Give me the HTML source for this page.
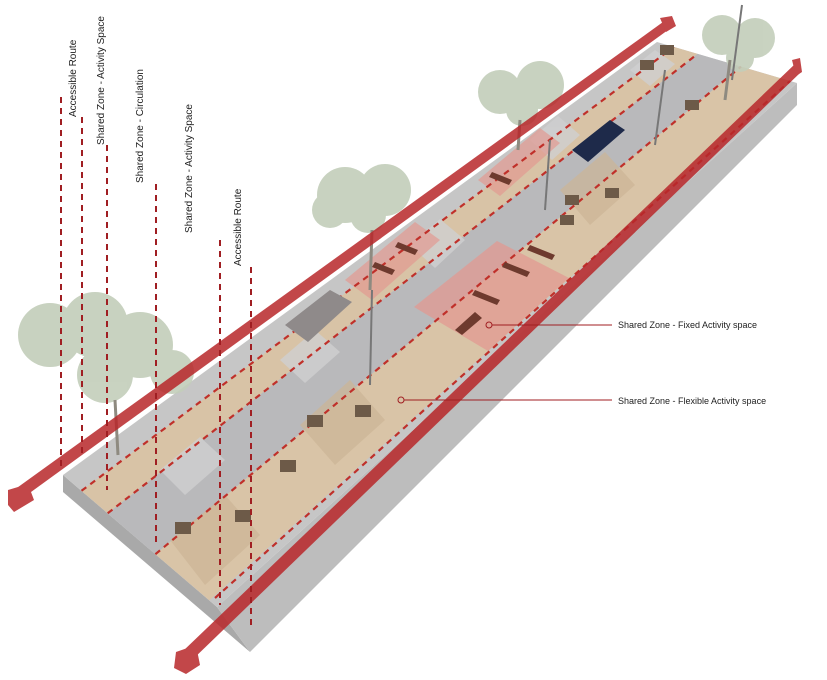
<!DOCTYPE html>
<html><head><meta charset="utf-8"><style>
html,body{margin:0;padding:0;background:#fff;}
svg{display:block;font-family:"Liberation Sans",sans-serif;}
</style></head><body>
<svg width="827" height="680" viewBox="0 0 827 680" xmlns="http://www.w3.org/2000/svg">
<polygon points="63,475 217,607 250,652 63,492" fill="#a9a9a9"/>
<polygon points="217,607 797,83 797,105 250,652" fill="#bdbdbd"/>
<polygon points="63,475 657,42 797,83 217,607" fill="#c6c6c6"/>
<polygon points="81.5,490.8 107.7,513.3 697.6,53.9 673.8,46.9" fill="#d8c3a6"/>
<polygon points="107.7,513.3 155.4,554.2 741,66.6 697.6,53.9" fill="#b9b9bb"/>
<polygon points="155.4,554.2 209.3,600.4 790,81 741,66.6" fill="#d9c4a7"/>
<g fill="#cfcfd1" opacity="0.8">
<polygon points="160,470 185,495 225,460 200,437"/>
<polygon points="280,360 305,383 340,352 315,330"/>
<polygon points="410,245 435,268 465,240 440,219"/>
<polygon points="530,140 552,160 580,135 558,116"/>
<polygon points="630,70 650,86 675,64 655,50"/>
</g>
<g fill="#ccb596" opacity="0.7">
<polygon points="170,540 205,585 260,535 225,495"/>
<polygon points="300,425 335,465 385,420 350,380"/>
<polygon points="560,190 590,225 635,185 605,152"/>
</g>
<polygon points="414,307 488,351 569,278 497,241" fill="#e29a92" opacity="0.75"/>
<polygon points="345,280 372,300 440,240 415,222" fill="#e29a92" opacity="0.7"/>
<polygon points="478,180 500,196 560,143 540,128" fill="#e29a92" opacity="0.7"/>
<g stroke="#c0302a" stroke-width="2.2" stroke-dasharray="6,5" fill="none">
<line x1="81.5" y1="490.8" x2="673.8" y2="46.9"/>
<line x1="107.7" y1="513.3" x2="697.6" y2="53.9"/>
<line x1="155.4" y1="554.2" x2="741" y2="66.6"/>
<line x1="215" y1="598" x2="790" y2="81"/>
</g>
<g fill="#c3ceba" opacity="0.9">
<circle cx="50" cy="335" r="32"/><circle cx="95" cy="325" r="33"/><circle cx="140" cy="345" r="33"/><circle cx="172" cy="372" r="22"/><circle cx="105" cy="375" r="28"/>
<circle cx="345" cy="195" r="28"/><circle cx="385" cy="190" r="26"/><circle cx="330" cy="210" r="18"/><circle cx="368" cy="215" r="18"/>
<circle cx="500" cy="92" r="22"/><circle cx="540" cy="85" r="24"/><circle cx="522" cy="110" r="16"/>
<circle cx="722" cy="35" r="20"/><circle cx="755" cy="38" r="20"/><circle cx="740" cy="58" r="14"/>
</g>
<g stroke="#8e8a80" stroke-width="3" fill="none">
<line x1="115" y1="400" x2="118" y2="455"/><line x1="372" y1="230" x2="370" y2="290"/><line x1="520" y1="120" x2="518" y2="150"/><line x1="730" y1="60" x2="725" y2="100"/>
</g>
<g stroke="#777" stroke-width="2">
<line x1="372" y1="290" x2="370" y2="385"/><line x1="550" y1="140" x2="545" y2="210"/><line x1="665" y1="70" x2="655" y2="145"/><line x1="742" y1="5" x2="732" y2="80"/>
</g>
<polygon points="285,325 330,290 352,302 308,342" fill="#8f8a8a"/>
<polygon points="572,150 610,120 625,130 588,162" fill="#1e2a4a"/>
<g fill="#6d5a48">
<rect x="175" y="522" width="16" height="12"/><rect x="235" y="510" width="16" height="12"/><rect x="280" y="460" width="16" height="12"/><rect x="307" y="415" width="16" height="12"/><rect x="355" y="405" width="16" height="12"/>
<rect x="560" y="215" width="14" height="10"/><rect x="605" y="188" width="14" height="10"/><rect x="565" y="195" width="14" height="10"/><rect x="685" y="100" width="14" height="10"/><rect x="640" y="60" width="14" height="10"/><rect x="660" y="45" width="14" height="10"/>
</g>
<g fill="#6e3a2e">
<polygon points="455,330 475,312 482,318 462,335"/><polygon points="475,290 500,300 497,305 472,295"/><polygon points="505,262 530,272 527,277 502,267"/><polygon points="530,245 555,255 552,260 527,250"/>
<polygon points="375,262 395,270 392,275 372,267"/><polygon points="398,242 418,250 415,255 395,247"/><polygon points="492,172 512,180 509,185 489,177"/>
</g>
<g fill="#b8272a" opacity="0.85">
<polygon points="14,490 663,22 668,30 20,500"/>
<polygon points="8,490 28,484 34,500 14,512 8,505"/>
<polygon points="660,18 672,16 676,26 666,32"/>
<polygon points="182,652 795,64 801,72 190,662"/>
<polygon points="176,652 196,645 200,665 186,674 174,668"/>
<polygon points="792,60 800,58 802,72 796,76"/>
</g>
<g stroke="#a01e22" stroke-width="2" stroke-dasharray="6,5">
<line x1="61" y1="97" x2="61" y2="470"/>
<line x1="82" y1="117" x2="82" y2="455"/>
<line x1="107" y1="145" x2="107" y2="490"/>
<line x1="156" y1="184" x2="156" y2="545"/>
<line x1="220" y1="240" x2="220" y2="605"/>
<line x1="251" y1="267" x2="251" y2="630"/>
</g>
<g font-size="10" fill="#222">
<text transform="translate(76,117) rotate(-90)">Accessible Route</text>
<text transform="translate(104,145) rotate(-90)">Shared Zone - Activity Space</text>
<text transform="translate(143,183) rotate(-90)">Shared Zone - Circulation</text>
<text transform="translate(192,233) rotate(-90)">Shared Zone - Activity Space</text>
<text transform="translate(241,266) rotate(-90)">Accessible Route</text>
</g>
<g stroke="#a01e22" stroke-width="1" fill="none">
<circle cx="489" cy="325" r="3"/><line x1="492" y1="325" x2="612" y2="325"/>
<circle cx="401" cy="400" r="3"/><line x1="404" y1="400" x2="612" y2="400"/>
</g>
<g font-size="9" fill="#222">
<text x="618" y="328">Shared Zone - Fixed Activity space</text>
<text x="618" y="404">Shared Zone - Flexible Activity space</text>
</g>
</svg>
</body></html>
